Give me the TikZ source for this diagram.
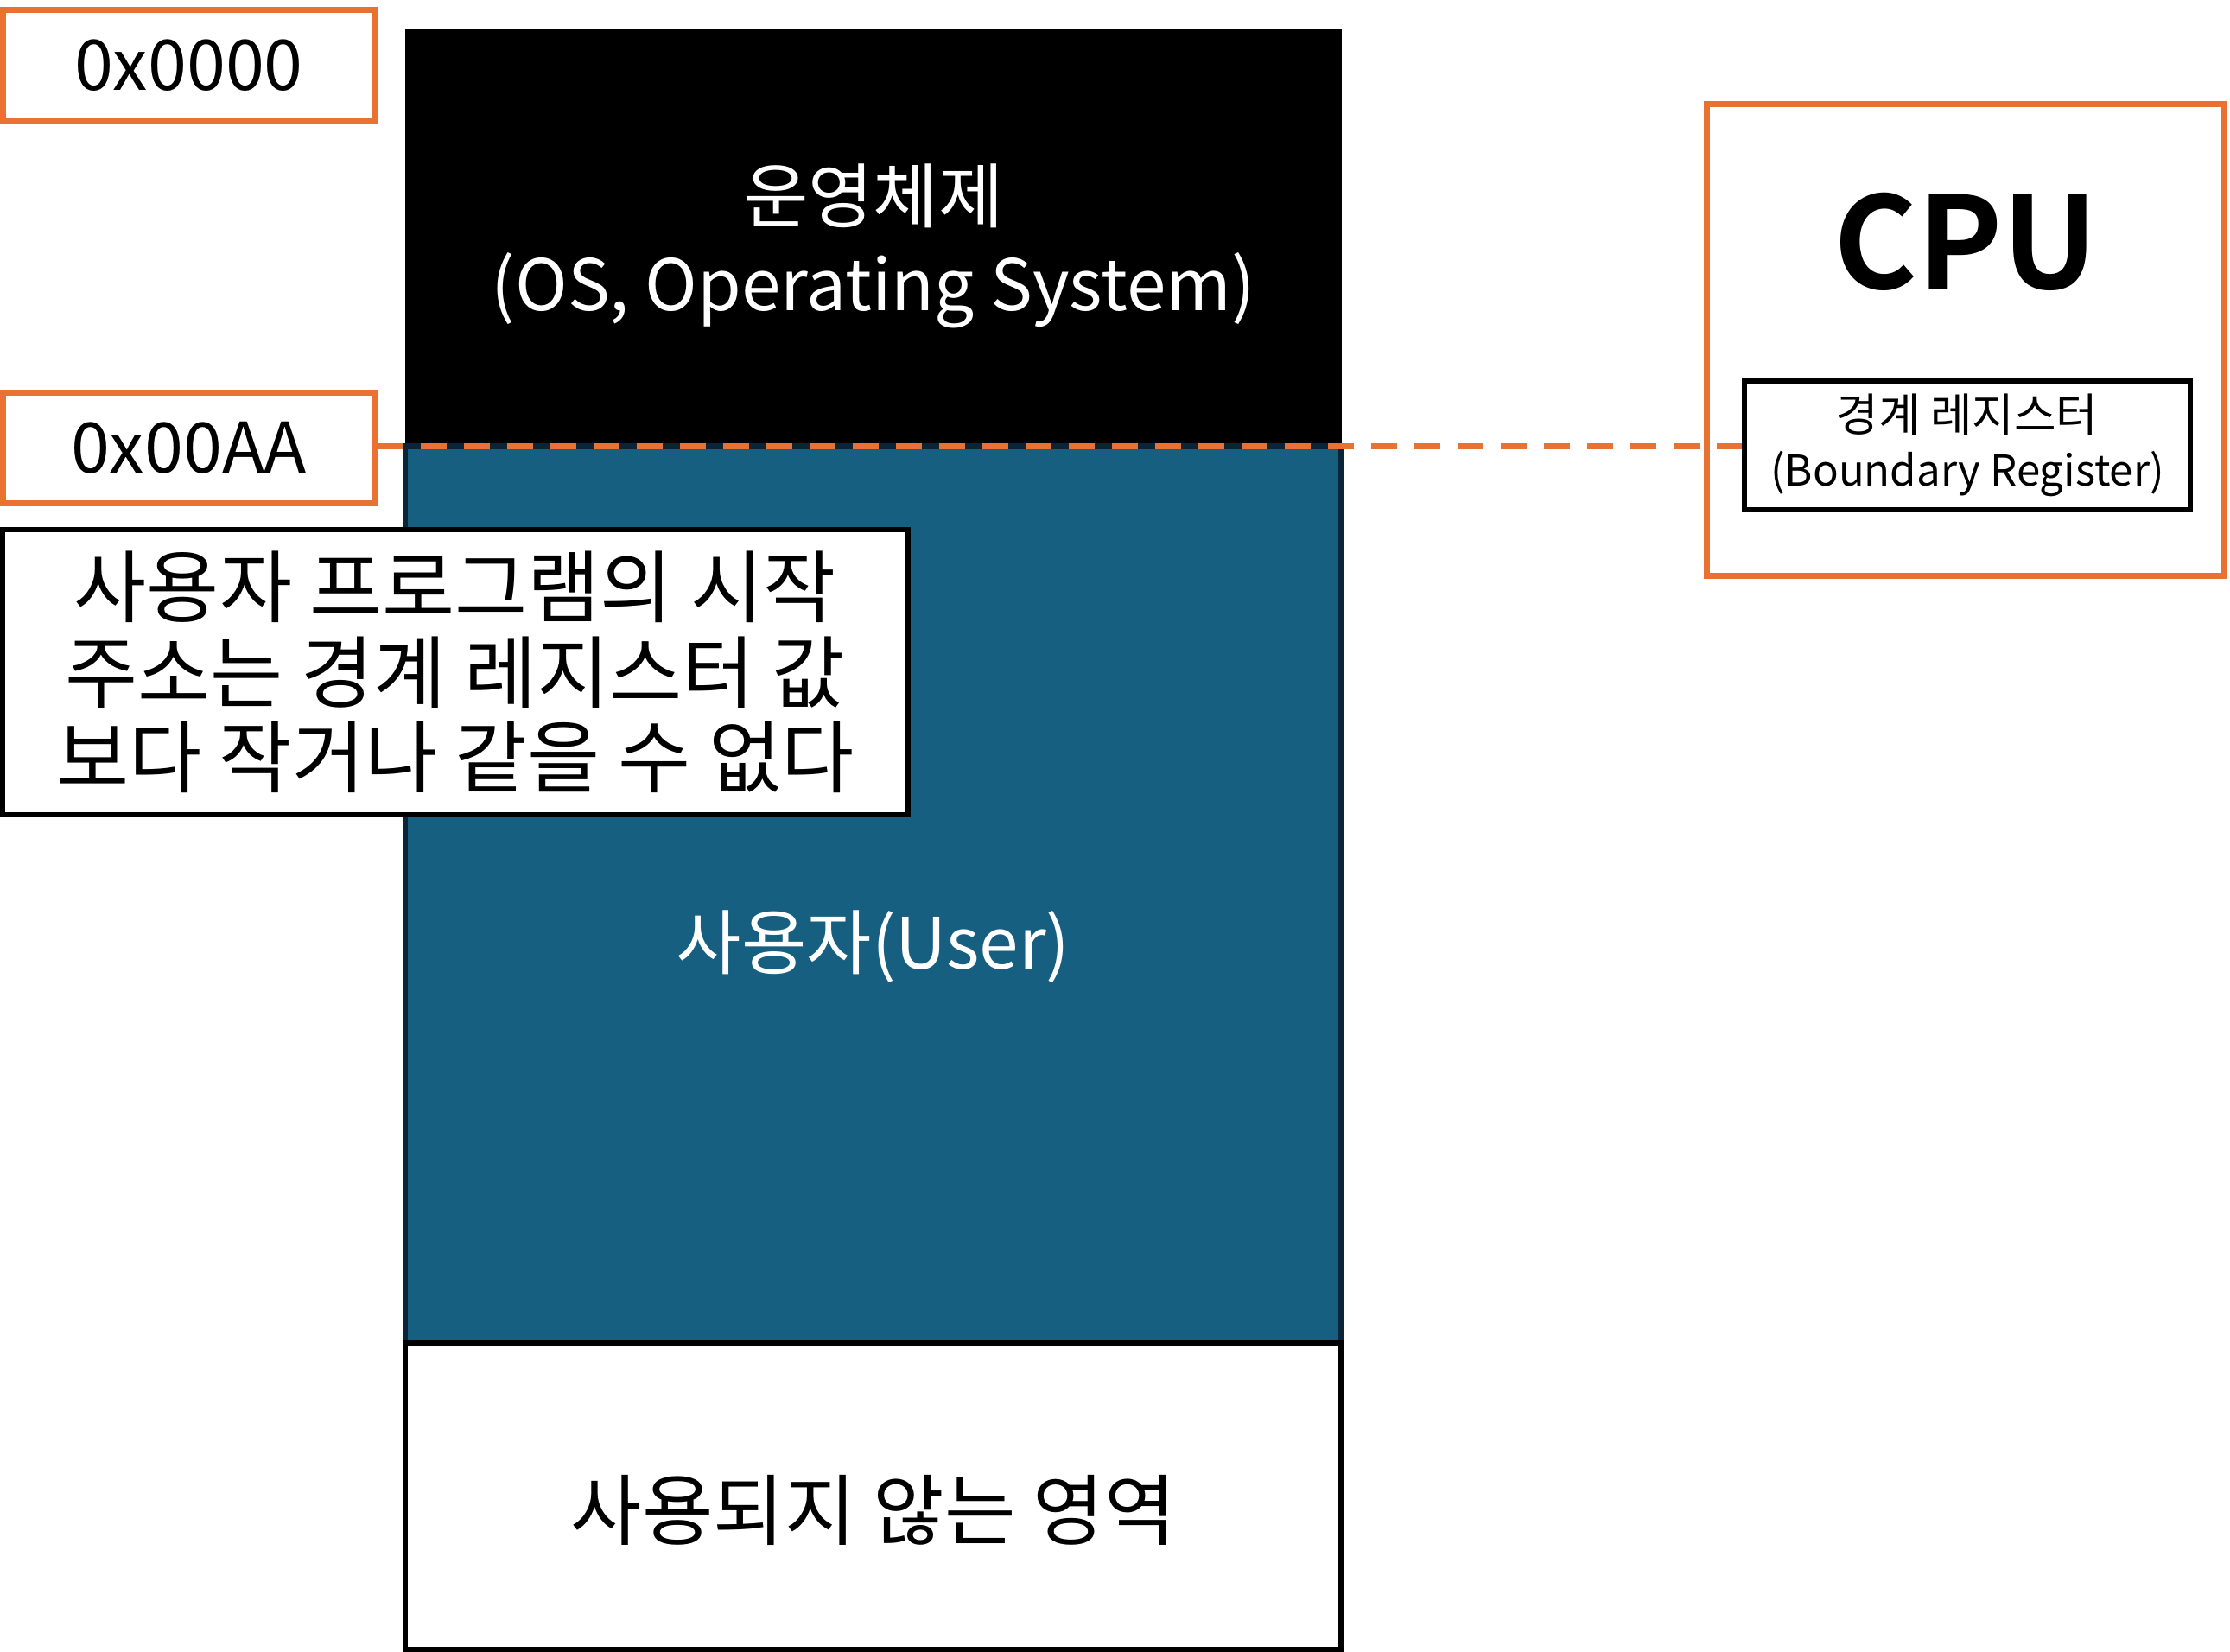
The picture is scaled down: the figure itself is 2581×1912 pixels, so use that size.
\documentclass[tikz,border=0pt]{standalone}
\usepackage{fontspec}
\setmainfont{Noto Sans CJK KR}[BoldFont={Noto Sans CJK KR Bold}]
\usetikzlibrary{positioning}
\definecolor{mem_orange}{RGB}{233,113,50}
\definecolor{mem_blue}{RGB}{23,95,128}
\definecolor{mem_navy}{RGB}{10,37,55}

\begin{document}
\begin{tikzpicture}[x=0.01cm, y=-0.01cm,
    addrbox/.style={draw=mem_orange, line width=2pt, fill=white, inner sep=0pt,
      minimum width=4.29cm, minimum height=1.28cm, font=\fontsize{23}{28}\selectfont},
    memblock/.style={inner sep=0pt, minimum width=10.83cm, line width=1.8pt},
    bigtext/.style={font=\fontsize{23.3}{29}\selectfont, align=center}]
  % page
  \path[fill=white] (0,0) rectangle (2581,1912);

  % memory blocks
  \node[memblock, fill=black, minimum height=4.84cm] (os) at (1010.5, 275) {};
  \node[memblock, fill=mem_blue, draw=mem_navy, minimum height=10.38cm] (user) at (1010.5, 1036) {};
  \node[memblock, fill=white, draw=black, minimum height=3.54cm] (free) at (1010.5, 1732) {};
  \node[bigtext, text=white] (oslbl) at (1010.5, 285) {운영체제\\(OS, Operating System)};
  \node[bigtext, text=white] (userlbl) at (1010.5, 1096) {사용자(User)};
  \node[bigtext, font=\fontsize{25.5}{30}\selectfont] (freelbl) at (1010.5, 1748) {사용되지 않는 영역};

  % addresses
  \node[addrbox] (addr0) at (218, 75.5) {0x0000};
  \node[addrbox] (addrAA) at (218, 518.5) {0x00AA};

  % note
  \node[draw=black, fill=white, line width=1.8pt, inner sep=0pt, minimum width=10.47cm,
    minimum height=3.30cm, align=center, font=\fontsize{26}{28}\selectfont] (note) at (526.5, 778)
    {사용자 프로그램의 시작\\주소는 경계 레지스터 값\\보다 작거나 같을 수 없다};

  % cpu
  \node[draw=mem_orange, line width=2pt, minimum width=5.99cm, minimum height=5.46cm] (cpu) at (2275, 393.5) {};
  \node[font=\fontsize{42}{50}\selectfont\bfseries] (cpulbl) at (2275, 280) {CPU};
  \node[draw=black, fill=white, line width=1.8pt, inner sep=0pt, minimum width=5.16cm,
    minimum height=1.49cm, align=center, font=\fontsize{14}{18}\selectfont] (reg) at (2277, 515.5)
    {{\fontsize{15}{18}\selectfont 경계 레지스터}\\(Boundary Register)};

  % boundary
  \draw[mem_orange, line width=2pt, dash pattern=on 0.3cm off 0.2cm]
    (addrAA.east |- 0,517) -- (reg.west |- 0,517);
\end{tikzpicture}
\end{document}
